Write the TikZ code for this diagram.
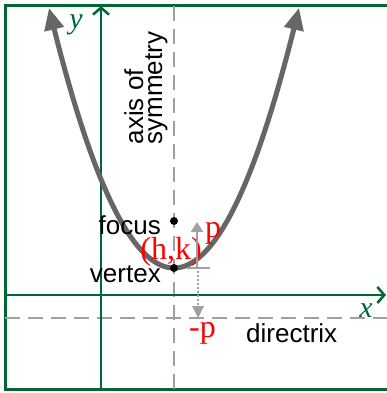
\documentclass[tikz,border=0pt]{standalone}
\usepackage{fontspec}
\setmainfont{Liberation Sans}
\newfontfamily\serifx{Liberation Serif}
\usetikzlibrary{arrows.meta}
\definecolor{axgreen}{RGB}{0,102,51}
\definecolor{dashgray}{RGB}{160,160,160}
\definecolor{parabgray}{RGB}{102,102,102}
\begin{document}
\begin{tikzpicture}[x=1pt,y=-1pt,
  framel/.style={draw=axgreen,line width=3pt},
  axisl/.style={draw=axgreen,line width=2.5pt,-{Straight Barb[length=7pt,width=16pt,line width=2.5pt]}},
  dashl/.style={draw=dashgray,line width=2.5pt,dash pattern=on 15pt off 8pt},
  parab/.style={draw=parabgray,line width=5pt,{Triangle[length=22pt,width=19pt]}-{Triangle[length=22pt,width=19pt]}},
  lbl/.style={font=\fontsize{26}{19}\selectfont,inner sep=0pt},
  redl/.style={text=red,font=\serifx\fontsize{32}{32}\selectfont,inner sep=0pt},
  axlbl/.style={text=axgreen,font=\serifx\itshape\fontsize{30}{30}\selectfont,inner sep=0pt},
  dotn/.style={circle,fill=black,inner sep=0pt,minimum size=8pt},
  parr/.style={draw=dashgray,line width=2pt}
]
\useasboundingbox (0,0) rectangle (387,393);
% frame
\coordinate (ftl) at (5,5.5);
\coordinate (fbl) at (5,389);
\coordinate (ftr) at (388,5.5);
\coordinate (fbr) at (388,389);
\draw[framel] (ftr) -- (ftl) -- (fbl) -- (fbr);
% dashed axis of symmetry and directrix
\coordinate (st) at (174,6);
\coordinate (sb) at (174,389);
\coordinate (dl) at (5,318);
\coordinate (dr) at (388,318);
\draw[dashl] (st) -- (sb);
\draw[dashl] (dl) -- (dr);
% axes
\coordinate (yb) at (101,389);
\coordinate (yt) at (101,6);
\coordinate (xl) at (5,295);
\coordinate (xr) at (386,295);
\draw[axisl] (yb) -- (yt);
\draw[axisl] (xl) -- (xr);
\node[axlbl,anchor=base] (ylab) at (76,29) {y};
\node[axlbl,anchor=base] (xlab) at (366,317) {x};
% parabola
\draw[parab] plot[domain=-125:125,samples=120,smooth] ({174+\x},{268-0.01664*\x*\x});
% focus and vertex
\node[dotn] (focus) at (174,221) {};
\node[dotn] (vertex) at (174,268) {};
\node[lbl,anchor=base east] (focuslab) at (161,234) {focus};
\node[lbl,anchor=base east] (vertexlab) at (161,282) {vertex};
\node[redl] (hk) at (171,252) {(h,k)};
% p arrows
\coordinate (pb) at (197,268);
\coordinate (pt) at (197,222);
\coordinate (tl) at (187,268);
\coordinate (tr) at (210,268);
\draw[parr,-{Triangle[length=10pt,width=12pt]}] (pb) -- (pt);
\draw[parr] (tl) -- (tr);
\coordinate (mb) at (198,318);
\coordinate (mt) at (198,271);
\draw[parr,dotted,line width=2pt] (mt) -- (198,306);
\draw[draw=none,fill=dashgray] (192,306) -- (204,306) -- (mb) -- cycle;
\node[redl,anchor=base west] (plab) at (205,237) {p};
\node[redl,anchor=base west] (mplab) at (189,337) {-p};
% texts
\node[lbl,anchor=base west] (dirlab) at (246,342) {directrix};
\node[lbl,rotate=90,align=left] (symlab) at (146,88) {axis of\\symmetry};
\end{tikzpicture}
\end{document}
